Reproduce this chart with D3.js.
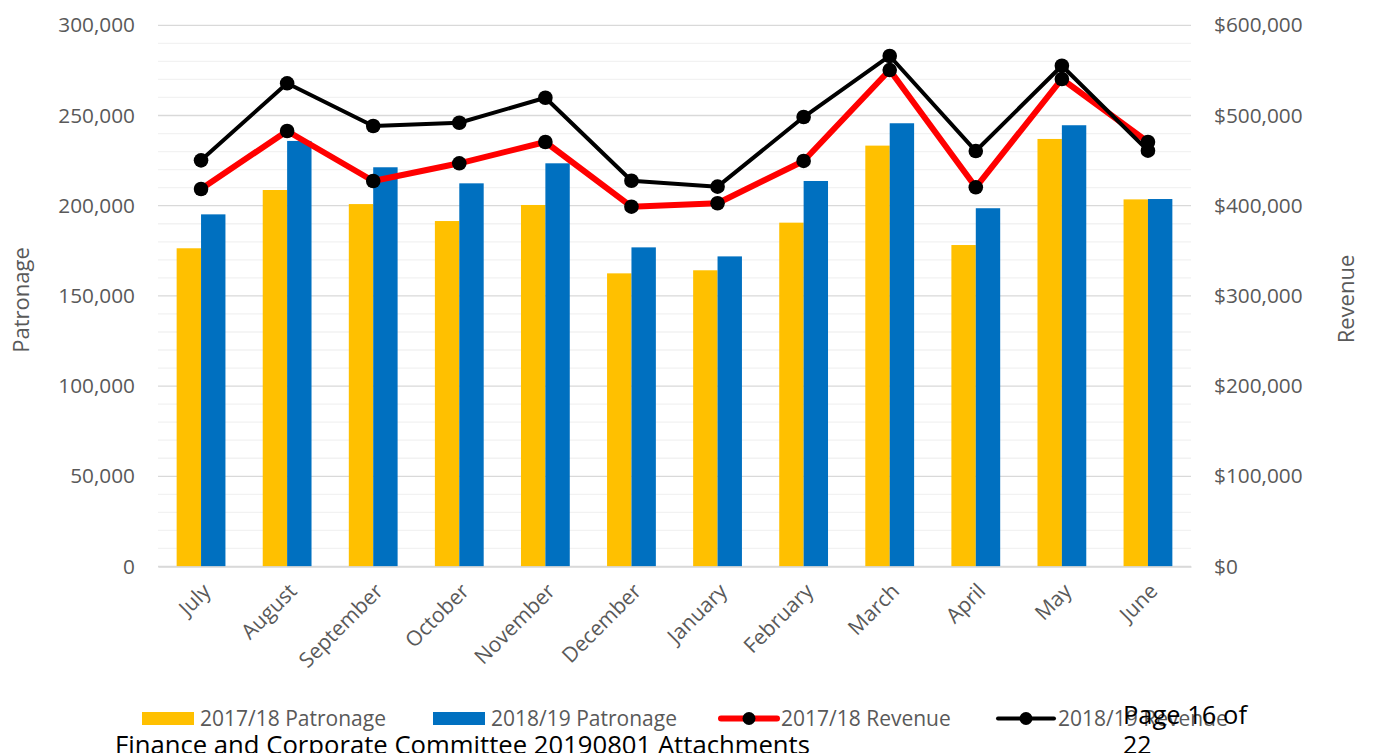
<!DOCTYPE html>
<html>
<head>
<meta charset="utf-8">
<script src="https://cdn.jsdelivr.net/npm/d3@7"></script>
<style>
  html, body { margin: 0; padding: 0; background: #fff; }
  svg { display: block; }
  text { font-family: "Open Sans", "Noto Sans", sans-serif; }
</style>
</head>
<body>
<svg id="chart" width="1373" height="753"></svg>
<script>
const months = ["July","August","September","October","November","December","January","February","March","April","May","June"];
const patronage1718 = [176400, 208700, 200900, 191500, 200400, 162500, 164200, 190600, 233300, 178200, 237000, 203500];
const patronage1819 = [195200, 235900, 221300, 212400, 223500, 176900, 171900, 213700, 245700, 198600, 244600, 203700];
const revenue1718 = [418500, 482800, 427400, 447000, 470600, 398900, 402700, 449600, 550400, 420400, 540500, 470600];
const revenue1819 = [450300, 535700, 488400, 492000, 519700, 427700, 421100, 498300, 566000, 460600, 555200, 461000];
const leftTicks = [0, 50000, 100000, 150000, 200000, 250000, 300000];
const rightTicks = [0, 100000, 200000, 300000, 400000, 500000, 600000];
const seriesNames = ["2017/18 Patronage", "2018/19 Patronage", "2017/18 Revenue", "2018/19 Revenue"];

const svg = d3.select("#chart");
const L = 158, R = 1191, T = 25.3, B = 566.5;
const gray = "#595959";

const x = d3.scaleBand().domain(months).range([L, R]).paddingInner(0).paddingOuter(0);
const xs = d3.scaleBand().domain([0, 1]).range([0, x.bandwidth()]).paddingInner(0).paddingOuter(0.764);
const yL = d3.scaleLinear().domain([0, 300000]).range([B, T]);
const yR = d3.scaleLinear().domain([0, 600000]).range([B, T]);

// minor gridlines
const minor = d3.range(0, 300001, 10000).filter(v => v % 50000 !== 0);
svg.append("g").selectAll("line").data(minor).join("line")
  .attr("x1", L).attr("x2", R).attr("y1", d => yL(d)).attr("y2", d => yL(d))
  .attr("stroke", "#f2f2f2").attr("stroke-width", 1.3);
// major gridlines
svg.append("g").selectAll("line").data(leftTicks).join("line")
  .attr("x1", L).attr("x2", R).attr("y1", d => yL(d)).attr("y2", d => yL(d))
  .attr("stroke", "#d9d9d9").attr("stroke-width", 1.3);

// left axis
const fmt = d3.format(",");
const axL = svg.append("g").attr("transform", `translate(${L - 23},0)`)
  .call(d3.axisLeft(yL).tickValues(leftTicks).tickFormat(fmt).tickSize(0).tickPadding(0));
axL.select(".domain").remove();
axL.selectAll("text").attr("fill", gray).style("font-size", "20.8px").style("font-family", '"Open Sans", sans-serif');

// right axis
const axR = svg.append("g").attr("transform", `translate(${R + 23},0)`)
  .call(d3.axisRight(yR).tickValues(rightTicks).tickFormat(d => "$" + fmt(d)).tickSize(0).tickPadding(0));
axR.select(".domain").remove();
axR.selectAll("text").attr("fill", gray).style("font-size", "20.8px").style("font-family", '"Open Sans", sans-serif');

// bars
const groups = svg.append("g").selectAll("g").data(months).join("g")
  .attr("transform", d => `translate(${x(d)},0)`);
groups.append("rect")
  .attr("x", xs(0)).attr("width", xs.bandwidth())
  .attr("y", (d, i) => yL(patronage1718[i])).attr("height", (d, i) => B - yL(patronage1718[i]))
  .attr("fill", "#FFC000");
groups.append("rect")
  .attr("x", xs(1)).attr("width", xs.bandwidth())
  .attr("y", (d, i) => yL(patronage1819[i])).attr("height", (d, i) => B - yL(patronage1819[i]))
  .attr("fill", "#0070C0");

// x axis
const axB = svg.append("g").attr("transform", `translate(0,${B})`)
  .call(d3.axisBottom(x).tickSize(0).tickPadding(0));
axB.select(".domain").attr("stroke", "#d9d9d9").attr("stroke-width", 1.3);
axB.selectAll("text")
  .attr("fill", gray).style("font-size", "21px").style("font-family", '"Open Sans", sans-serif')
  .attr("text-anchor", "end").attr("dy", null).attr("y", 0)
  .attr("transform", "translate(11,26) rotate(-45)");

// lines
const cx = m => x(m) + x.bandwidth() / 2;
function drawLine(vals, color, width) {
  const line = d3.line().x((d, i) => cx(months[i])).y(d => yR(d));
  svg.append("path").datum(vals).attr("d", line)
    .attr("fill", "none").attr("stroke", color).attr("stroke-width", width)
    .attr("stroke-linejoin", "round");
  svg.append("g").selectAll("circle").data(vals).join("circle")
    .attr("cx", (d, i) => cx(months[i])).attr("cy", d => yR(d)).attr("r", 7.3)
    .attr("fill", "#000");
}
drawLine(revenue1718, "#FF0000", 6);
drawLine(revenue1819, "#000000", 4);

// axis titles
svg.append("text").attr("transform", "translate(29,300) rotate(-90)")
  .attr("text-anchor", "middle").attr("fill", gray).style("font-size", "22px").text("Patronage");
svg.append("text").attr("transform", "translate(1354,299) rotate(-90)")
  .attr("text-anchor", "middle").attr("fill", gray).style("font-size", "22px").text("Revenue");

// legend
const legY = 718.5;
const leg = svg.append("g");
const swatchX = [142, 433];
[0, 1].forEach(i => {
  leg.append("rect").attr("x", swatchX[i]).attr("y", legY - 6.5).attr("width", 52).attr("height", 13)
    .attr("fill", i === 0 ? "#FFC000" : "#0070C0");
  leg.append("text").attr("x", swatchX[i] + 58).attr("y", legY + 7.5).attr("fill", gray)
    .style("font-size", "21px").text(seriesNames[i]);
});
const lineX = [721, 998];
[2, 3].forEach((s, j) => {
  leg.append("line").attr("x1", lineX[j]).attr("x2", lineX[j] + 56).attr("y1", legY).attr("y2", legY)
    .attr("stroke", j === 0 ? "#FF0000" : "#000").attr("stroke-width", j === 0 ? 6 : 4)
    .attr("stroke-linecap", "round");
  leg.append("circle").attr("cx", lineX[j] + 28).attr("cy", legY).attr("r", 6.5).attr("fill", "#000");
  leg.append("text").attr("x", lineX[j] + 60).attr("y", legY + 7.5).attr("fill", gray)
    .style("font-size", "21px").text(seriesNames[s]);
});

// footer overlay text
svg.append("text").attr("x", 115).attr("y", 754).attr("fill", "#000")
  .style("font-size", "25px").attr("textLength", 695).attr("lengthAdjust", "spacingAndGlyphs")
  .text("Finance and Corporate Committee 20190801 Attachments");
svg.append("text").attr("x", 1123).attr("y", 723.5).attr("fill", "#000")
  .style("font-size", "25px").attr("textLength", 124).attr("lengthAdjust", "spacingAndGlyphs")
  .text("Page 16 of");
svg.append("text").attr("x", 1123).attr("y", 753.5).attr("fill", "#000")
  .style("font-size", "25px").text("22");
</script>
</body>
</html>
